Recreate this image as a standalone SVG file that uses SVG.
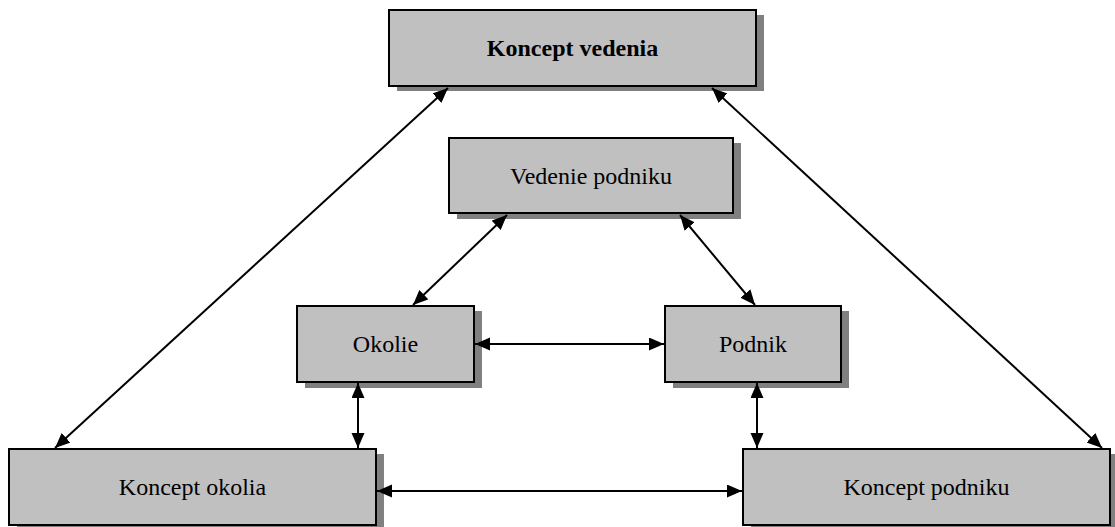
<svg xmlns="http://www.w3.org/2000/svg" width="1115" height="527" viewBox="0 0 1115 527">
  <style>
    .shadow { fill: #808080; }
    .box { fill: #c0c0c0; stroke: #000; stroke-width: 2; }
    .label { font-family: "Liberation Serif", "Times New Roman", serif; font-size: 24px; fill: #000; text-anchor: middle; }
    .bold { font-weight: bold; }
    .link { stroke: #000; stroke-width: 2; fill: none; marker-start: url(#head); marker-end: url(#head); }
  </style>
  <defs>
    <marker id="head" markerUnits="userSpaceOnUse" markerWidth="16" markerHeight="14" refX="15" refY="6.5" orient="auto-start-reverse">
      <path d="M0,0 L15,6.5 L0,13 Z" fill="#000"/>
    </marker>
  </defs>
  <rect width="1115" height="527" fill="#fff"/>

  <!-- nodes: drop shadow, then box with label -->
  <g id="koncept-vedenia">
    <rect class="shadow" x="397" y="15" width="367" height="76"/>
    <rect class="box" x="389" y="10" width="367" height="76"/>
    <text class="label bold" x="572.5" y="56">Koncept vedenia</text>
  </g>
  <g id="vedenie-podniku">
    <rect class="shadow" x="457" y="143" width="284" height="76"/>
    <rect class="box" x="449" y="138" width="284" height="75"/>
    <text class="label" x="591" y="184">Vedenie podniku</text>
  </g>
  <g id="okolie">
    <rect class="shadow" x="305" y="311" width="177" height="77"/>
    <rect class="box" x="297" y="306" width="177" height="76"/>
    <text class="label" x="385.5" y="352">Okolie</text>
  </g>
  <g id="podnik">
    <rect class="shadow" x="673" y="311" width="176" height="77"/>
    <rect class="box" x="665" y="306" width="176" height="76"/>
    <text class="label" x="753" y="352">Podnik</text>
  </g>
  <g id="koncept-okolia">
    <rect class="shadow" x="17" y="454" width="367" height="73"/>
    <rect class="box" x="9" y="449" width="367" height="76"/>
    <text class="label" x="192.5" y="495">Koncept okolia</text>
  </g>
  <g id="koncept-podniku">
    <rect class="shadow" x="751" y="454" width="367" height="73"/>
    <rect class="box" x="743" y="449" width="367" height="76"/>
    <text class="label" x="926.5" y="495">Koncept podniku</text>
  </g>

  <!-- two-way connectors -->
  <g id="connectors">
    <line class="link" x1="448" y1="88" x2="55" y2="448"/>
    <line class="link" x1="712" y1="88" x2="1102" y2="448"/>
    <line class="link" x1="507" y1="215" x2="413" y2="305"/>
    <line class="link" x1="680" y1="215" x2="755" y2="305"/>
    <line class="link" x1="475" y1="344" x2="664" y2="344"/>
    <line class="link" x1="358" y1="383" x2="358" y2="448"/>
    <line class="link" x1="757" y1="383" x2="757" y2="448"/>
    <line class="link" x1="377" y1="491" x2="742" y2="491"/>
  </g>
</svg>
